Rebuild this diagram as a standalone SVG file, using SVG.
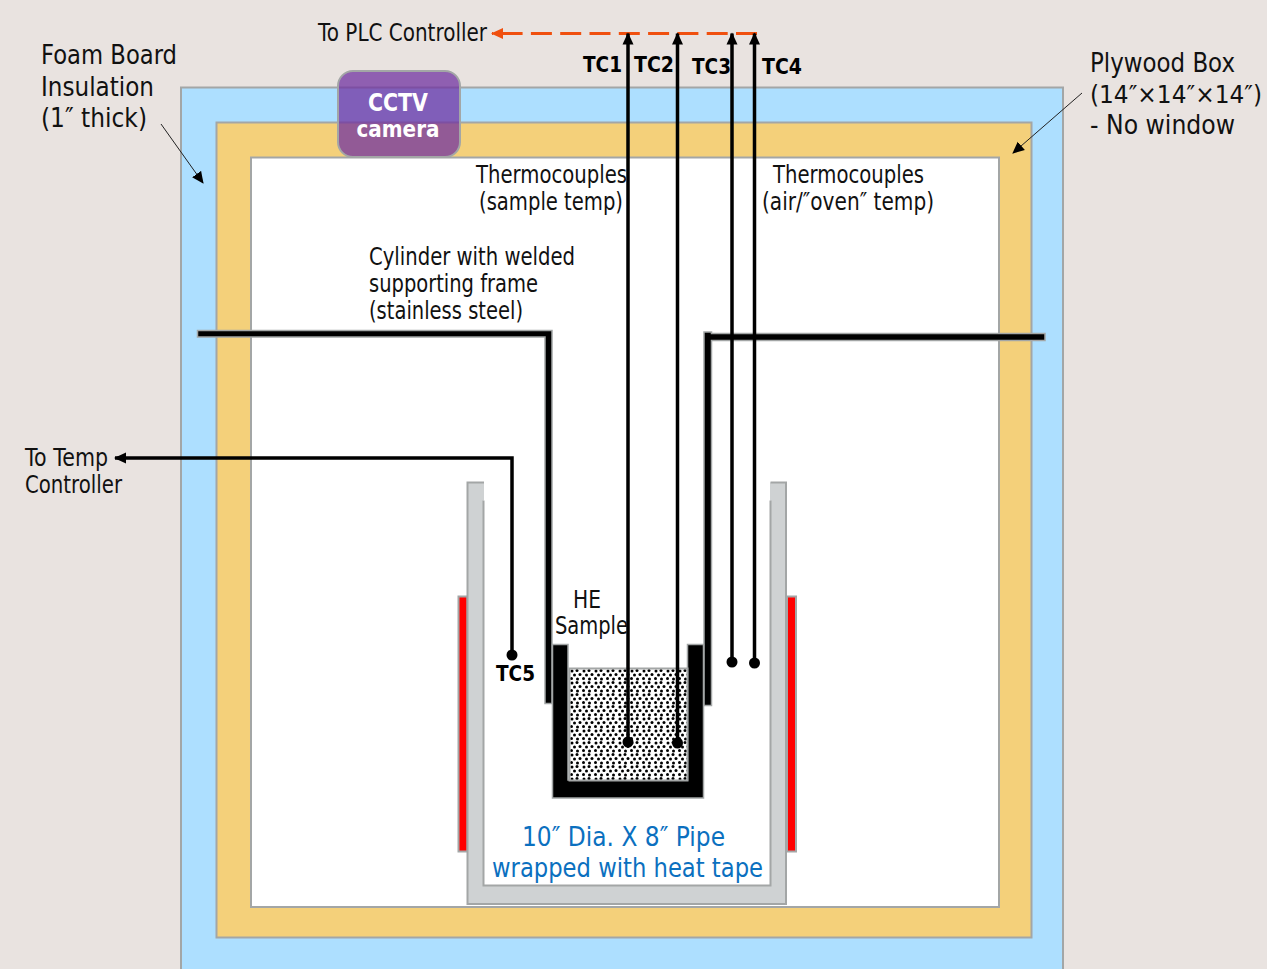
<svg xmlns="http://www.w3.org/2000/svg" width="1267" height="969" viewBox="0 0 1267 969">
<style>
.t{font-family:"DejaVu Sans",sans-serif;font-size:24px;fill:#111}
.l{font-family:"DejaVu Sans",sans-serif;font-size:26px;fill:#111}
.b{font-family:"DejaVu Sans",sans-serif;font-size:21px;font-weight:700;fill:#000}
.w{stroke:#000;stroke-width:3.500;fill:none}
.fr{fill:#000;stroke:#a3a6a6;stroke-width:1.500}
.dot{fill:#000}
.blue{font-family:"DejaVu Sans",sans-serif;font-size:26px;fill:#0b70bf}
</style>
<defs>
<marker id="ah" markerUnits="userSpaceOnUse" markerWidth="14" markerHeight="12" refX="11" refY="6" orient="auto"><path d="M0 0.500L12 6L0 11.500Z" fill="#000"/></marker>
<marker id="ao" markerUnits="userSpaceOnUse" markerWidth="14" markerHeight="12" refX="11" refY="6" orient="auto"><path d="M0 0.500L12 6L0 11.500Z" fill="#f0500f"/></marker>
<pattern id="st" width="12" height="12" patternUnits="userSpaceOnUse" x="570" y="669">
<rect width="12" height="12" fill="#fff"/>
<circle cx="2" cy="2" r="1.500" fill="#000"/><circle cx="7" cy="1.500" r="1.500" fill="#000"/><circle cx="4.500" cy="6" r="1.500" fill="#000"/><circle cx="10" cy="5.500" r="1.500" fill="#000"/><circle cx="1.500" cy="9.500" r="1.500" fill="#000"/><circle cx="7.500" cy="10" r="1.500" fill="#000"/>
</pattern>
</defs>
<rect width="1267" height="969" fill="#e9e3e0"/>
<g id="foam"><rect x="181" y="87.500" width="882" height="890" fill="#addfff" stroke="#a3a6a6" stroke-width="2"/></g>
<g id="plywood"><rect x="216.500" y="122.500" width="815" height="815" fill="#f4d07a" stroke="#a3a6a6" stroke-width="2"/></g>
<g id="cavity"><rect x="251" y="157.500" width="748" height="749.500" fill="#fff" stroke="#a3a6a6" stroke-width="2"/></g>
<g id="camera"><rect x="338" y="71" width="122" height="86" rx="15" fill="#7030a0" fill-opacity=".74" stroke="#a3a6a6" stroke-width="2"/>
<text x="398" y="111" text-anchor="middle" font-family="DejaVu Sans,sans-serif" font-size="24" font-weight="700" fill="#fff" textLength="60" lengthAdjust="spacingAndGlyphs">CCTV</text>
<text x="398" y="137" text-anchor="middle" font-family="DejaVu Sans,sans-serif" font-size="23" font-weight="700" fill="#fff" textLength="83" lengthAdjust="spacingAndGlyphs">camera</text></g>
<g id="heat-tape"><rect x="458.500" y="596.500" width="9" height="255" fill="#f00" stroke="#a3a6a6" stroke-width="2"/><rect x="787" y="596.500" width="9" height="255" fill="#f00" stroke="#a3a6a6" stroke-width="2"/></g>
<g id="pipe"><path d="M467.500 482.500H484V500.500H483V885.500H770.500V500.500H770V482.500H786V904H467.500Z" fill="#cfd2d3"/>
<path d="M484 482.500H467.500V904H786V482.500H770.500M770.500 500.500V885.500H483.500V500.500" fill="none" stroke="#a3a6a6" stroke-width="2"/></g>
<g id="frame"><path class="fr" d="M197.500 330.500H552V703.500H545V337H197.500Z"/><path class="fr" d="M704 332H711.500V333.500H1045V340.500H711.500V705.500H704Z"/></g>
<g id="crucible"><path class="fr" d="M552.500 644.500H568V780H687.500V644.500H703.500V798H552.500Z"/><rect x="569.500" y="668.500" width="118" height="112" fill="url(#st)" stroke="#a3a6a6" stroke-width="2"/></g>
<g id="connectors">
<path d="M757 33.500H492" fill="none" stroke="#f0500f" stroke-width="3" stroke-dasharray="21 8.300" marker-end="url(#ao)"/>
<path class="w" d="M628 742V33.500" marker-end="url(#ah)"/>
<path class="w" d="M677.500 743V33.500" marker-end="url(#ah)"/>
<path class="w" d="M732 662V33.500" marker-end="url(#ah)"/>
<path class="w" d="M754.500 663V33.500" marker-end="url(#ah)"/>
<path class="w" d="M512 655V458H115" marker-end="url(#ah)"/>
<path d="M161 124L203 183" fill="none" stroke="#222" stroke-width="1" marker-end="url(#ah)"/>
<path d="M1082 93L1013 153" fill="none" stroke="#222" stroke-width="1" marker-end="url(#ah)"/>
<circle class="dot" cx="628" cy="742" r="5.500"/><circle class="dot" cx="677.500" cy="743" r="5.500"/><circle class="dot" cx="732" cy="662" r="5.500"/><circle class="dot" cx="754.500" cy="663" r="5.500"/><circle class="dot" cx="512" cy="655" r="5.500"/>
</g>
<g id="labels">
<text class="l" x="41" y="64" textLength="136" lengthAdjust="spacingAndGlyphs">Foam Board</text>
<text class="l" x="41" y="96" textLength="113" lengthAdjust="spacingAndGlyphs">Insulation</text>
<text class="l" x="41" y="127" textLength="106" lengthAdjust="spacingAndGlyphs">(1″ thick)</text>
<text class="t" x="318" y="41" textLength="169" lengthAdjust="spacingAndGlyphs">To PLC Controller</text>
<text class="b" x="583" y="72" textLength="39" lengthAdjust="spacingAndGlyphs">TC1</text>
<text class="b" x="634" y="72" textLength="40" lengthAdjust="spacingAndGlyphs">TC2</text>
<text class="b" x="692" y="74" textLength="39" lengthAdjust="spacingAndGlyphs">TC3</text>
<text class="b" x="762" y="74" textLength="40" lengthAdjust="spacingAndGlyphs">TC4</text>
<text class="l" x="1090" y="72" textLength="145" lengthAdjust="spacingAndGlyphs">Plywood Box</text>
<text class="t" x="1090" y="103" textLength="172" lengthAdjust="spacingAndGlyphs">(14″×14″×14″)</text>
<text class="l" x="1090" y="134" textLength="145" lengthAdjust="spacingAndGlyphs">- No window</text>
<text class="t" x="476" y="183" textLength="151" lengthAdjust="spacingAndGlyphs">Thermocouples</text>
<text class="t" x="479" y="210" textLength="144" lengthAdjust="spacingAndGlyphs">(sample temp)</text>
<text class="t" x="773" y="183" textLength="151" lengthAdjust="spacingAndGlyphs">Thermocouples</text>
<text class="t" x="762" y="210" textLength="172" lengthAdjust="spacingAndGlyphs">(air/″oven″ temp)</text>
<text class="t" x="369" y="265" textLength="206" lengthAdjust="spacingAndGlyphs">Cylinder with welded</text>
<text class="t" x="369" y="292" textLength="169" lengthAdjust="spacingAndGlyphs">supporting frame</text>
<text class="t" x="369" y="319" textLength="154" lengthAdjust="spacingAndGlyphs">(stainless steel)</text>
<text class="t" x="25" y="466" textLength="83" lengthAdjust="spacingAndGlyphs">To Temp</text>
<text class="t" x="25" y="493" textLength="97" lengthAdjust="spacingAndGlyphs">Controller</text>
<text class="t" x="573" y="608" textLength="28" lengthAdjust="spacingAndGlyphs">HE</text>
<text class="t" x="555" y="634" textLength="73" lengthAdjust="spacingAndGlyphs">Sample</text>
<text class="b" x="496" y="681" textLength="39" lengthAdjust="spacingAndGlyphs">TC5</text>
<text class="blue" x="522" y="846" textLength="203" lengthAdjust="spacingAndGlyphs">10″ Dia. X 8″ Pipe</text>
<text class="blue" x="492" y="877" textLength="271" lengthAdjust="spacingAndGlyphs">wrapped with heat tape</text>
</g>
</svg>
